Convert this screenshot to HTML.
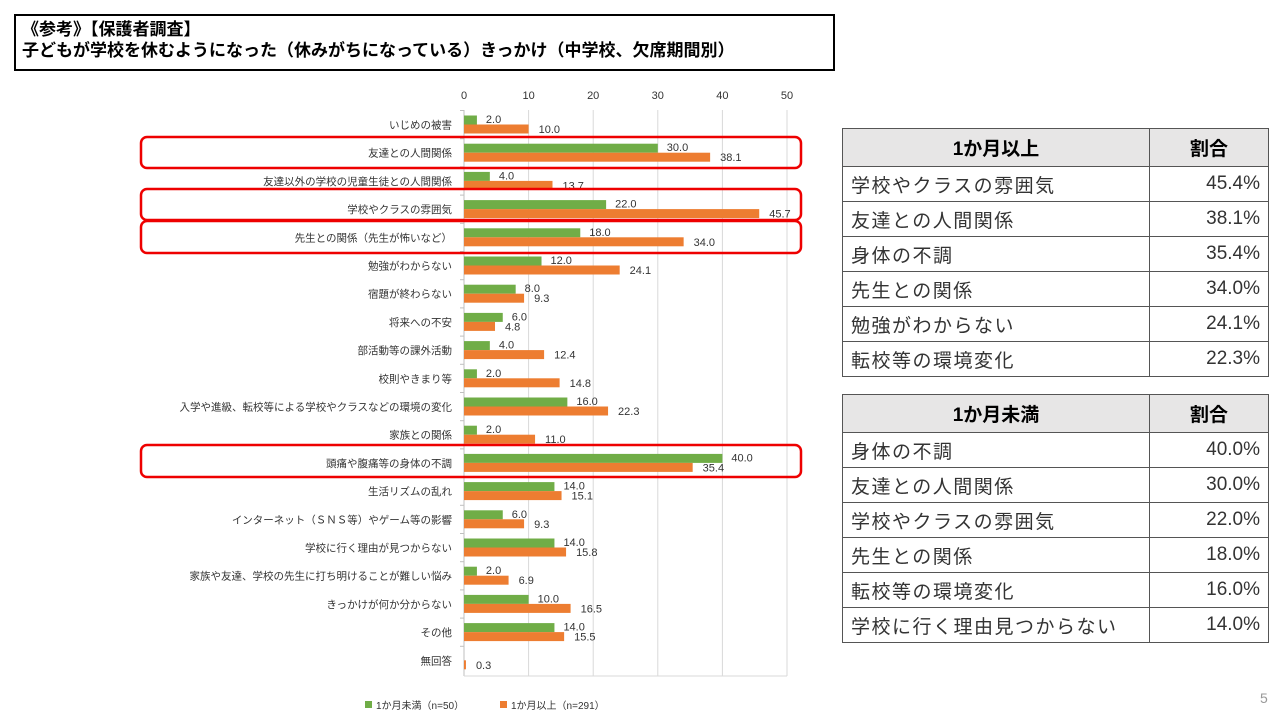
<!DOCTYPE html>
<html><head><meta charset="utf-8"><style>
body{margin:0;width:1280px;height:720px;background:#fff;overflow:hidden;font-family:"Liberation Sans","Noto Sans CJK JP",sans-serif;position:relative}
.title{position:absolute;left:14px;top:14px;box-sizing:border-box;width:821px;height:57px;border:2px solid #000;font-weight:bold;font-size:17px;line-height:21px;padding:3px 0 0 6px;color:#000}
table{position:absolute;left:842px;border-collapse:collapse;font-size:19px;color:#333}
td{border:1.5px solid #555;height:34px;padding:0 8px}
th{border:1.5px solid #555;background:#e7e6e6;height:35px;font-size:19px;color:#000}
td.v{text-align:right;width:102px}
td.n{width:290px;letter-spacing:1.5px}
.pg{position:absolute;left:1260px;top:690px;color:#999;font-size:14px}
</style></head><body>
<div class="title">《参考》【保護者調査】<br>子どもが学校を休むようになった（休みがちになっている）きっかけ（中学校、欠席期間別）</div>
<svg id="c" width="1280" height="720" style="position:absolute;left:0;top:0"></svg>
<table style="top:128px"><tr><th>1か月以上</th><th>割合</th></tr>
<tr><td class="n">学校やクラスの雰囲気</td><td class="v">45.4%</td></tr>
<tr><td class="n">友達との人間関係</td><td class="v">38.1%</td></tr>
<tr><td class="n">身体の不調</td><td class="v">35.4%</td></tr>
<tr><td class="n">先生との関係</td><td class="v">34.0%</td></tr>
<tr><td class="n">勉強がわからない</td><td class="v">24.1%</td></tr>
<tr><td class="n">転校等の環境変化</td><td class="v">22.3%</td></tr></table>
<table style="top:394px"><tr><th>1か月未満</th><th>割合</th></tr>
<tr><td class="n">身体の不調</td><td class="v">40.0%</td></tr>
<tr><td class="n">友達との人間関係</td><td class="v">30.0%</td></tr>
<tr><td class="n">学校やクラスの雰囲気</td><td class="v">22.0%</td></tr>
<tr><td class="n">先生との関係</td><td class="v">18.0%</td></tr>
<tr><td class="n">転校等の環境変化</td><td class="v">16.0%</td></tr>
<tr><td class="n">学校に行く理由見つからない</td><td class="v">14.0%</td></tr></table>
<div class="pg">5</div>
<script>
const D=[["いじめの被害",2,10],["友達との人間関係",30,38.1],["友達以外の学校の児童生徒との人間関係",4,13.7],["学校やクラスの雰囲気",22,45.7],["先生との関係（先生が怖いなど）",18,34],["勉強がわからない",12,24.1],["宿題が終わらない",8,9.3],["将来への不安",6,4.8],["部活動等の課外活動",4,12.4],["校則やきまり等",2,14.8],["入学や進級、転校等による学校やクラスなどの環境の変化",16,22.3],["家族との関係",2,11],["頭痛や腹痛等の身体の不調",40,35.4],["生活リズムの乱れ",14,15.1],["インターネット（ＳＮＳ等）やゲーム等の影響",6,9.3],["学校に行く理由が見つからない",14,15.8],["家族や友達、学校の先生に打ち明けることが難しい悩み",2,6.9],["きっかけが何か分からない",10,16.5],["その他",14,15.5],["無回答",null,0.3]];
const X0=464,S=6.46;let s='<g font-family="Liberation Sans,Noto Sans CJK JP,sans-serif">';
for(let k=0;k<=5;k++){const x=X0+k*10*S;s+=`<line x1="${x}" y1="110" x2="${x}" y2="676" stroke="${k?'#d9d9d9':'#bfbfbf'}"/><text x="${x}" y="99" font-size="11" text-anchor="middle" fill="#333">${k*10}</text>`;}
s+=`<line x1="${X0}" y1="676" x2="${X0+50*S}" y2="676" stroke="#d9d9d9"/>`;
D.forEach((d,i)=>{const c=124.5+28.2*i;
s+=`<line x1="${X0-4}" y1="${c-14}" x2="${X0}" y2="${c-14}" stroke="#bfbfbf"/>`;
s+=`<text x="452" y="${c+4}" font-size="10.5" text-anchor="end" fill="#333">${d[0]}</text>`;
if(d[1]!=null){const w=d[1]*S;s+=`<rect x="${X0}" y="${c-9}" width="${w}" height="9" fill="#70ad47"/><text x="${X0+w+9}" y="${c-1.5}" font-size="11" fill="#333">${d[1].toFixed(1)}</text>`;}
const w2=d[2]*S;s+=`<rect x="${X0}" y="${c}" width="${w2}" height="9" fill="#ed7d31"/><text x="${X0+w2+10}" y="${c+8.5}" font-size="11" fill="#333">${d[2].toFixed(1)}</text>`;});
[[137,168],[189,220],[221,253],[445,477]].forEach(r=>{s+=`<rect x="141" y="${r[0]}" width="660" height="${r[1]-r[0]}" rx="6" fill="none" stroke="#e00" stroke-width="2.5"/>`;});
s+=`<rect x="365" y="701" width="7" height="7" fill="#70ad47"/><text x="376" y="709" font-size="10" fill="#333">1か月未満（n=50）</text><rect x="500" y="701" width="7" height="7" fill="#ed7d31"/><text x="511" y="709" font-size="10" fill="#333">1か月以上（n=291）</text></g>`;
document.getElementById('c').innerHTML=s;
</script>
</body></html>
